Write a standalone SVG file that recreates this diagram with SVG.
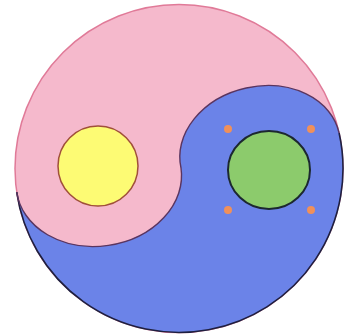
<svg xmlns="http://www.w3.org/2000/svg" width="350" height="335" viewBox="0 0 350 335">
<style>
.dot{fill:#f0905a}
</style>
<rect width="350" height="335" fill="#ffffff"/>
<g id="yin-yang">
<circle cx="179" cy="168.5" r="164" fill="#f5b9cc" stroke="#e07a98" stroke-width="1.5"/>
<path d="M16.69,192 A82.9,66 -8.31 0 0 181,168 A80.9,64 -12.48 0 1 339.11,133 A164,164 0 1 1 16.69,192 Z" fill="#6b83e8"/>
<path d="M339.11,133 A164,164 0 1 1 16.69,192" fill="none" stroke="#1e2040" stroke-width="1.6"/>
<path d="M16.69,192 A82.9,66 -8.31 0 0 181,168 A80.9,64 -12.48 0 1 339.11,133" fill="none" stroke="#5a3560" stroke-width="1.4"/>
</g>
<g id="yellow">
<circle cx="98" cy="166" r="40" fill="#fdfb74" stroke="#a0503a" stroke-width="1.5"/>
</g>
<g id="green">
<ellipse cx="269" cy="170" rx="41" ry="39" fill="#8ccb6c" stroke="#1c2830" stroke-width="2"/>
</g>
<g id="dots">
<circle class="dot" cx="228" cy="129" r="4"/>
<circle class="dot" cx="311" cy="129" r="4"/>
<circle class="dot" cx="228" cy="210" r="4"/>
<circle class="dot" cx="311" cy="210" r="4"/>
</g>
</svg>
